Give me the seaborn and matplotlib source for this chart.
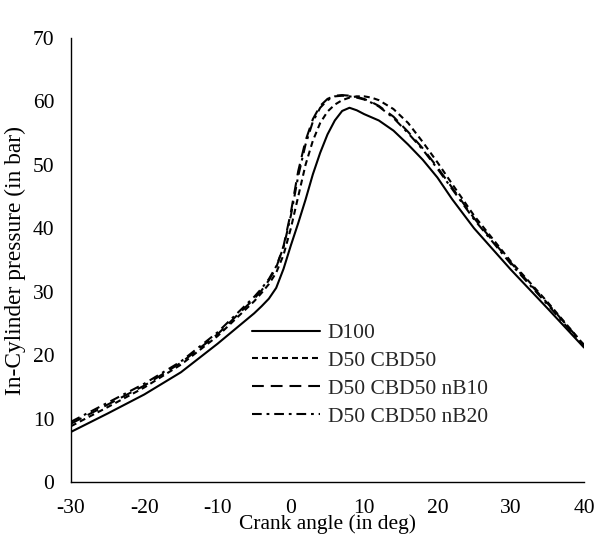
import numpy as np
import pandas as pd
import matplotlib
matplotlib.use("Agg")
import matplotlib.pyplot as plt
import seaborn as sns

# ---- data ----
crank = [-30, -25, -20, -15, -10, -5, -4, -3, -2, -1, 0, 1, 2, 3, 4, 5, 6, 7, 8, 9,
         10, 11, 12, 14, 16, 18, 20, 22, 25, 30, 35, 40]

d100 = [7.9, 10.8, 13.8, 17.3, 21.8, 26.6, 27.7, 28.9, 30.6, 33.6, 37.3, 40.8, 44.5,
        48.5, 51.9, 54.8, 57.0, 58.5, 59.0, 58.6, 58.0, 57.5, 57.0, 55.4, 53.2, 50.8,
        48.0, 44.6, 40.0, 33.5, 27.4, 21.2]

d50_cbd50 = [8.8, 11.8, 14.9, 18.5, 23.0, 28.5, 29.8, 31.2, 33.0, 35.8, 40.0, 45.0,
             50.0, 53.8, 56.6, 58.4, 59.5, 60.2, 60.6, 60.8, 60.8, 60.6, 60.2, 58.8,
             56.6, 53.6, 50.4, 47.0, 42.0, 34.8, 28.4, 21.6]

d50_cbd50_nb10 = [9.2, 12.2, 15.2, 18.8, 23.3, 28.9, 30.2, 31.8, 33.8, 37.2, 42.5,
                  49.0, 53.8, 57.2, 59.3, 60.4, 60.9, 61.0, 60.9, 60.7, 60.4, 59.9,
                  59.3, 57.6, 55.2, 52.6, 49.6, 46.4, 41.6, 34.6, 28.2, 21.6]

d50_cbd50_nb20 = [9.5, 12.5, 15.5, 19.0, 23.6, 29.2, 30.5, 32.0, 34.0, 37.0, 42.0,
                  48.2, 53.2, 56.8, 59.0, 60.2, 60.8, 60.9, 60.8, 60.6, 60.3, 59.8,
                  59.2, 57.4, 55.0, 52.4, 49.4, 46.2, 41.4, 34.4, 28.0, 21.4]

series_names = ["D100", "D50 CBD50", "D50 CBD50 nB10", "D50 CBD50 nB20"]
series_values = [d100, d50_cbd50, d50_cbd50_nb10, d50_cbd50_nb20]

x_ticks = [-30, -20, -10, 0, 10, 20, 30, 40]
y_ticks = [0, 10, 20, 30, 40, 50, 60, 70]

df = pd.concat(
    [pd.DataFrame({"angle": crank, "pressure": v, "fuel": n})
     for n, v in zip(series_names, series_values)],
    ignore_index=True,
)

# ---- style ----
sns.set_style("white")
plt.rcParams["font.family"] = ["Liberation Serif", "DejaVu Serif"]
plt.rcParams["lines.scale_dashes"] = False

FS = 15.5

fig = plt.figure(figsize=(6.06, 5.35), dpi=100)
ax = fig.add_axes([71 / 606, 1 - 482 / 535, 513 / 606, 444 / 535])

dash_map = {
    "D100": "",
    "D50 CBD50": (4.3, 2.9),
    "D50 CBD50 nB10": (8.5, 5.0),
    "D50 CBD50 nB20": (7.0, 3.5, 2.0, 3.5),
}
palette = {n: "black" for n in series_names}

sns.lineplot(data=df, x="angle", y="pressure", hue="fuel", style="fuel",
             hue_order=series_names, style_order=series_names,
             palette=palette, dashes=dash_map, estimator=None, sort=True,
             linewidth=1.5, ax=ax)

ax.set_xlim(-30, 40)
ax.set_ylim(0, 70)
ax.set_xticks(x_ticks)
ax.set_yticks(y_ticks)
ax.set_xticklabels([str(t) for t in x_ticks])
ax.set_yticklabels([str(t) for t in y_ticks])

for s in ["top", "right"]:
    ax.spines[s].set_visible(False)
for s in ["left", "bottom"]:
    ax.spines[s].set_color("black")
    ax.spines[s].set_linewidth(1.0)

ax.tick_params(axis="both", direction="in", length=5, width=1.0, color="black",
               labelsize=FS, labelcolor="black", pad=12)

ax.set_xlabel("Crank angle (in deg)", fontsize=FS, color="black")
ax.set_ylabel("In-Cylinder pressure (in bar)", fontsize=16.8, color="black")
ax.xaxis.set_label_coords(0.5, -0.072)
ax.yaxis.set_label_coords(-0.088, 0.5)

leg = ax.legend(loc="upper left", bbox_to_anchor=(252 / 606, 1 - 323 / 535),
                bbox_transform=fig.transFigure, frameon=False, fontsize=FS,
                handlelength=3.15, handletextpad=0.37, labelspacing=0.36,
                borderaxespad=0, borderpad=0)
for line in leg.get_lines():
    line.set_linewidth(1.5)
    line.set_color("black")

fig.savefig("out.png", dpi=100, facecolor="white")
